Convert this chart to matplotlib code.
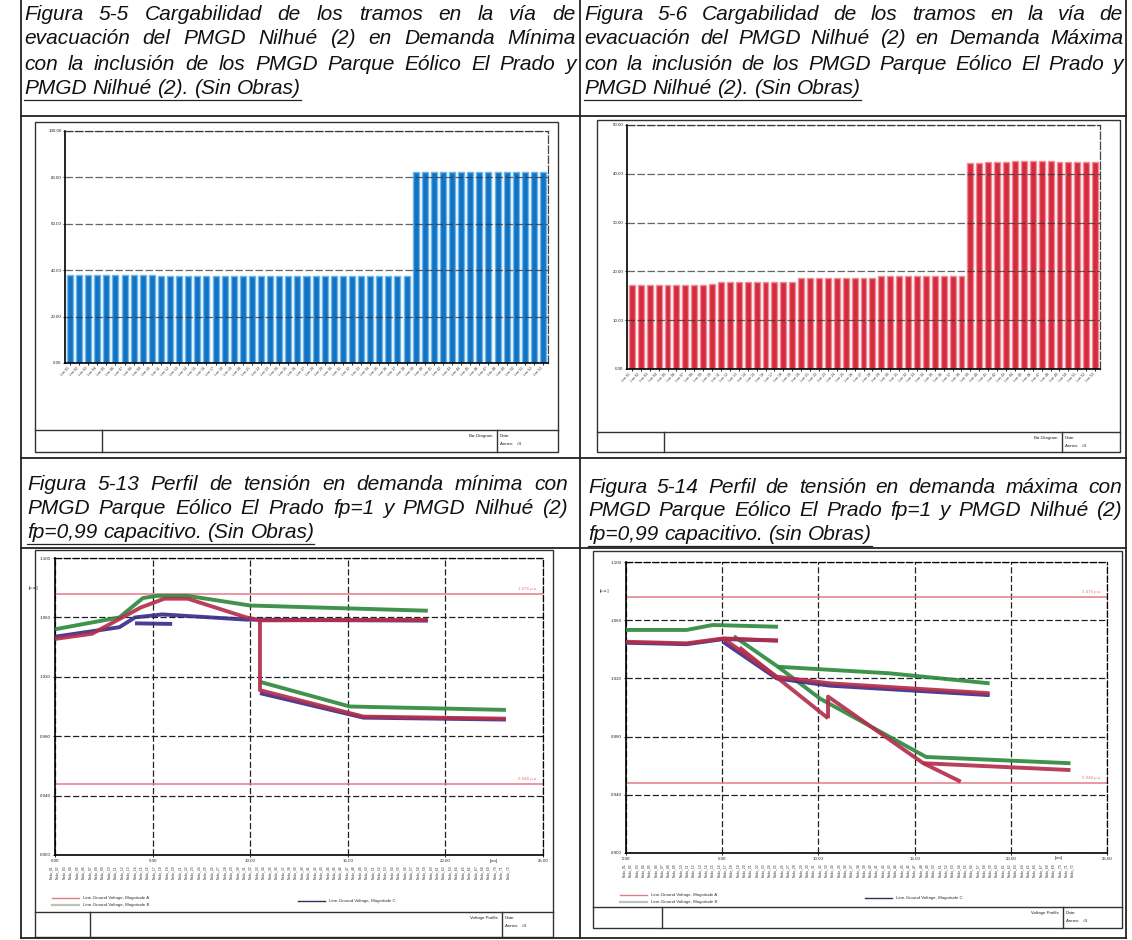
import matplotlib
matplotlib.use("Agg")
import matplotlib.pyplot as plt
from matplotlib.lines import Line2D
from matplotlib.patches import Rectangle
import matplotlib.transforms as mtransforms
import numpy as np

# ---------------------------------------------------------------- data
caption_tl = ["Figura 5-5 Cargabilidad de los tramos en la vía de",
              "evacuación del PMGD Nilhué (2) en Demanda Mínima",
              "con la inclusión de los PMGD Parque Eólico El Prado y",
              "PMGD Nilhué (2). (Sin Obras)"]
caption_tr = ["Figura 5-6 Cargabilidad de los tramos en la vía de",
              "evacuación del PMGD Nilhué (2) en Demanda Máxima",
              "con la inclusión de los PMGD Parque Eólico El Prado y",
              "PMGD Nilhué (2). (Sin Obras)"]
caption_bl = ["Figura 5-13 Perfil de tensión en demanda mínima con",
              "PMGD Parque Eólico El Prado fp=1 y PMGD Nilhué (2)",
              "fp=0,99 capacitivo. (Sin Obras)"]
caption_br = ["Figura 5-14 Perfil de tensión en demanda máxima con",
              "PMGD Parque Eólico El Prado fp=1 y PMGD Nilhué (2)",
              "fp=0,99 capacitivo. (sin Obras)"]

# loading of line sections [%] (53 sections)
tl_loading = [37.9, 37.9, 37.8, 37.8, 37.8, 37.8, 37.8, 37.8, 37.8, 37.8,
              37.7, 37.7, 37.7, 37.7, 37.7, 37.7, 37.6, 37.6, 37.6, 37.6,
              37.6, 37.6, 37.6, 37.6, 37.6, 37.6, 37.6, 37.6, 37.6, 37.6,
              37.7, 37.7, 37.7, 37.6, 37.6, 37.6, 37.6, 37.6,
              82.4, 82.4, 82.4, 82.4, 82.4, 82.4, 82.4, 82.4, 82.4, 82.4,
              82.4, 82.4, 82.4, 82.4, 82.4]
tr_loading = [17.3, 17.3, 17.3, 17.3, 17.3, 17.3, 17.3, 17.3, 17.3, 17.4,
              17.8, 17.8, 17.8, 17.8, 17.8, 17.8, 17.8, 17.8, 17.8,
              18.6, 18.6, 18.6, 18.6, 18.6, 18.6, 18.6, 18.7, 18.7,
              19.1, 19.1, 19.1, 19.1, 19.1, 19.1, 19.1, 19.1, 19.1, 19.1,
              42.3, 42.3, 42.4, 42.4, 42.5, 42.6, 42.6, 42.6, 42.6, 42.6,
              42.5, 42.5, 42.5, 42.5, 42.5]
section_labels = ["Lne %02d" % (i + 1) for i in range(53)]
tl_yticks = [0, 20, 40, 60, 80, 100]
tr_yticks = [0, 10, 20, 30, 40, 50]

# voltage profiles  (distance [km], voltage [p.u.])
# --- minimum demand
bl_b_main_km = [0.0, 3.3, 4.5, 5.2, 6.8, 10.0, 19.1]
bl_b_main_pu = [1.052, 1.060, 1.073, 1.0745, 1.0745, 1.068, 1.0645]
bl_b_low_km = [10.5, 15.1, 23.1]
bl_b_low_pu = [1.0166, 1.000, 0.9977]
bl_c_main_km = [0.0, 3.3, 4.1, 5.5, 9.8, 19.1]
bl_c_main_pu = [1.047, 1.0534, 1.060, 1.062, 1.0585, 1.0578]
bl_c_stub_km = [4.1, 6.0]
bl_c_stub_pu = [1.056, 1.0556]
bl_c_low_km = [10.5, 15.8, 23.1]
bl_c_low_pu = [1.009, 0.9925, 0.9912]
bl_a_main_km = [0.0, 1.9, 4.4, 5.6, 6.8, 9.8, 10.5, 19.1]
bl_a_main_pu = [1.0455, 1.049, 1.0667, 1.0726, 1.0726, 1.060, 1.058, 1.0583]
bl_a_low_km = [10.5, 10.5, 15.8, 23.1]
bl_a_low_pu = [1.058, 1.011, 0.9932, 0.9918]
# --- maximum demand
br_b_stub_km = [0.0, 3.15, 4.5, 7.9]
br_b_stub_pu = [1.0533, 1.0533, 1.0567, 1.0555]
br_b_main_km = [5.6, 7.9, 13.7, 18.9]
br_b_main_pu = [1.049, 1.028, 1.0235, 1.0166]
br_b_low_km = [7.9, 10.1, 15.6, 23.1]
br_b_low_pu = [1.028, 1.006, 0.966, 0.9617]
br_c_stub_km = [0.0, 3.15, 5.06, 7.9]
br_c_stub_pu = [1.0445, 1.0435, 1.047, 1.046]
br_c_main_km = [5.06, 7.83, 10.6, 18.9]
br_c_main_pu = [1.045, 1.020, 1.015, 1.0085]
br_a_stub_km = [0.0, 3.15, 5.06, 7.9]
br_a_stub_pu = [1.0452, 1.0441, 1.0475, 1.046]
br_a_main_km = [5.06, 7.83, 10.6, 18.9]
br_a_main_pu = [1.0475, 1.0212, 1.0166, 1.0098]
br_a_low1_km = [5.9, 10.5]
br_a_low1_pu = [1.0413, 0.9926]
br_a_low2_km = [10.5, 10.5, 15.45, 17.4]
br_a_low2_pu = [0.9926, 1.0075, 0.9617, 0.949]
br_a_low3_km = [15.45, 23.1]
br_a_low3_pu = [0.9617, 0.957]

v_upper = 1.076
v_lower = 0.948
km_ticks = [0, 5, 10, 15, 20, 25]
pu_ticks = [0.90, 0.94, 0.98, 1.02, 1.06, 1.10]
bus_labels = ["Nodo_%02d" % (i + 1) for i in range(72)]
legend_labels = ["Line-Ground Voltage, Magnitude A",
                 "Line-Ground Voltage, Magnitude B",
                 "Line-Ground Voltage, Magnitude C"]

# ---------------------------------------------------------------- styling
plt.rcParams['font.family'] = ['Liberation Sans', 'DejaVu Sans']
W, H = 1132, 940
fig = plt.figure(figsize=(W / 100, H / 100), dpi=100)
fig.patch.set_facecolor('white')

COL_A = '#b42e4c'
COL_B = '#2f8a3e'
COL_C = '#3a2e8c'
COL_LIM = '#e27a88'
CAP_FS = 15.0
TINY = 3.2


def fx(x):
    return x / W


def fy(y):
    return 1 - y / H


def rect(l, t, r, b):
    return [l / W, 1 - b / H, (r - l) / W, (b - t) / H]


def fline(xs, ys, lw=1.0, color='#222222', ls='-'):
    fig.add_artist(Line2D([fx(v) for v in xs], [fy(v) for v in ys],
                          transform=fig.transFigure, lw=lw, color=color, ls=ls))


renderer = fig.canvas.get_renderer()


def caption(lines, x0, x1, ys):
    sp = fig.text(0, 0, "a a", fontsize=CAP_FS, style='italic')
    nsp = fig.text(0, 0, "aa", fontsize=CAP_FS, style='italic')
    space = sp.get_window_extent(renderer).width - nsp.get_window_extent(renderer).width
    sp.remove()
    nsp.remove()
    for i, (line, y) in enumerate(zip(lines, ys)):
        words = line.split(' ')
        texts = [fig.text(0, fy(y), w, fontsize=CAP_FS, style='italic',
                          va='center', ha='left', color='#111111') for w in words]
        widths = [t.get_window_extent(renderer).width for t in texts]
        if i < len(lines) - 1:
            gap = max(space * 0.6, (x1 - x0 - sum(widths)) / (len(words) - 1))
        else:
            gap = space
        x = x0
        for t, w in zip(texts, widths):
            t.set_x(fx(x))
            x += w + gap
        if i == len(lines) - 1:
            fline([x0, x - gap], [y + 11, y + 11], lw=0.9, color='#222222')


# ---------------------------------------------------------------- table
fline([21, 1126], [116, 116], lw=1.3)
fline([21, 1126], [458, 458], lw=1.3)
fline([21, 1126], [548, 548], lw=1.3)
fline([21, 1126], [938, 938], lw=1.3)
for xv in (21, 580, 1126):
    fline([xv, xv], [0, 938], lw=1.3)

caption(caption_tl, 24, 576, [14, 39, 64, 89])
caption(caption_tr, 584, 1123, [14, 39, 64, 89])
caption(caption_bl, 27, 568, [485, 509, 533])
caption(caption_br, 588, 1122, [487, 511, 535])


# ---------------------------------------------------------------- frames
def frame(l, t, r, b, box_t, d1, d2, title):
    fig.add_artist(Rectangle((fx(l), fy(b)), fx(r - l), (b - t) / H, transform=fig.transFigure,
                             fill=False, lw=1.0, ec='#333333'))
    fline([l, r], [box_t, box_t], lw=1.0, color='#333333')
    fline([d1, d1], [box_t, b], lw=1.0, color='#333333')
    fline([d2, d2], [box_t, b], lw=1.0, color='#333333')
    fig.text(fx(d2 - 4), fy(box_t + 6), title, fontsize=TINY, ha='right', va='center', color='#222222')
    fig.text(fx(d2 + 3), fy(box_t + 6), "Date:", fontsize=TINY, ha='left', va='center', color='#222222')
    fig.text(fx(d2 + 3), fy(box_t + 14), "Annex:   /4", fontsize=TINY, ha='left', va='center', color='#222222')


frame(35, 122, 558, 452, 430, 102, 497, "Bar-Diagram")
frame(597, 120, 1120, 452, 432, 664, 1062, "Bar-Diagram")
frame(35, 550, 553, 937, 912, 90, 502, "Voltage Profile")
frame(593, 551, 1122, 928, 907, 662, 1063, "Voltage Profile")


# ---------------------------------------------------------------- bar charts
def bar_chart(box, values, yticks, core, edge):
    ax = fig.add_axes(box)
    x = np.arange(len(values))
    ax.bar(x, values, width=0.66, color=core, edgecolor=edge, linewidth=1.0, zorder=2)
    ax.set_xlim(-0.55, len(values) - 0.45)
    ax.set_ylim(yticks[0], yticks[-1])
    ax.set_yticks(yticks)
    ax.set_yticklabels(["%.2f" % v for v in yticks], fontsize=TINY, color='#222222')
    ax.set_xticks(x)
    ax.set_xticklabels(section_labels, rotation=45, ha='right', fontsize=2.6, color='#333333')
    ax.tick_params(length=1.5, width=0.6, pad=1)
    for yv in yticks[1:]:
        ax.axhline(yv, color='#333333', lw=0.9, ls=(0, (6, 2)), zorder=3, alpha=0.75)
    ax.spines['left'].set_linewidth(1.2)
    ax.spines['bottom'].set_linewidth(1.2)
    for s in ('top', 'right'):
        ax.spines[s].set_linestyle((0, (6, 2)))
        ax.spines[s].set_linewidth(0.9)
        ax.spines[s].set_color('#444444')
    return ax


bar_chart(rect(65, 131, 548, 363), tl_loading, tl_yticks, '#1273c4', '#6db6ea')
bar_chart(rect(627, 125, 1100, 369), tr_loading, tr_yticks, '#d42c3e', '#f08c98')


# ---------------------------------------------------------------- voltage profiles
def profile(box, series, lbl_x0, lbl_x1, leg):
    ax = fig.add_axes(box)
    for km, pu, col in series:
        ax.plot(km, pu, color=col, lw=2.8, solid_capstyle='butt', zorder=3, alpha=0.92)
    ax.axhline(v_upper, color=COL_LIM, lw=1.1, zorder=2)
    ax.axhline(v_lower, color=COL_LIM, lw=1.1, zorder=2)
    ax.text(24.7, v_upper + 0.002, "%.3f p.u." % v_upper, fontsize=TINY, color=COL_LIM,
            ha='right', va='bottom')
    ax.text(24.7, v_lower + 0.002, "%.3f p.u." % v_lower, fontsize=TINY, color=COL_LIM,
            ha='right', va='bottom')
    ax.set_xlim(km_ticks[0], km_ticks[-1])
    ax.set_ylim(pu_ticks[0], pu_ticks[-1])
    ax.set_xticks(km_ticks)
    ax.set_xticklabels(["%.2f" % v for v in km_ticks], fontsize=TINY, color='#222222')
    ax.set_yticks(pu_ticks)
    ax.set_yticklabels(["%.3f" % v for v in pu_ticks], fontsize=TINY, color='#222222')
    ax.tick_params(length=1.5, width=0.6, pad=1.5)
    ax.text(22.5, -0.012, "[km]", transform=ax.get_xaxis_transform(), fontsize=TINY,
            ha='center', va='top', color='#222222')
    ax.text(-0.035, 1.08, "[p.u.]", transform=ax.get_yaxis_transform(), fontsize=TINY,
            ha='right', va='center', color='#222222')
    ax.grid(True, color='#222222', lw=0.9, ls=(0, (5, 2)), zorder=1)
    ax.spines['left'].set_linewidth(1.2)
    ax.spines['bottom'].set_linewidth(1.2)
    for s in ('top', 'right'):
        ax.spines[s].set_linestyle((0, (5, 2)))
        ax.spines[s].set_linewidth(0.9)
    trans = mtransforms.blended_transform_factory(ax.transData, ax.transAxes)
    pos = np.linspace(lbl_x0, lbl_x1, len(bus_labels))
    for p, lab in zip(pos, bus_labels):
        ax.text(p, -0.035, lab, transform=trans, rotation=90, fontsize=2.4,
                ha='center', va='top', color='#333333')
    (lx0, ly0), (lx1, ly1), (rx0, ry0) = leg
    fline([lx0, lx0 + 27], [ly0, ly0], lw=1.0, color=COL_LIM)
    fig.text(fx(lx0 + 31), fy(ly0), legend_labels[0], fontsize=TINY, va='center', color='#333333')
    fline([lx1, lx1 + 27], [ly1, ly1], lw=1.6, color='#b8c6b8')
    fig.text(fx(lx1 + 31), fy(ly1), legend_labels[1], fontsize=TINY, va='center', color='#333333')
    fline([rx0, rx0 + 27], [ry0, ry0], lw=1.0, color='#30305a')
    fig.text(fx(rx0 + 31), fy(ry0), legend_labels[2], fontsize=TINY, va='center', color='#333333')
    return ax


bl_series = [(bl_b_main_km, bl_b_main_pu, COL_B), (bl_b_low_km, bl_b_low_pu, COL_B),
             (bl_c_main_km, bl_c_main_pu, COL_C), (bl_c_stub_km, bl_c_stub_pu, COL_C),
             (bl_c_low_km, bl_c_low_pu, COL_C),
             (bl_a_main_km, bl_a_main_pu, COL_A), (bl_a_low_km, bl_a_low_pu, COL_A)]
br_series = [(br_b_stub_km, br_b_stub_pu, COL_B), (br_b_main_km, br_b_main_pu, COL_B),
             (br_b_low_km, br_b_low_pu, COL_B),
             (br_c_stub_km, br_c_stub_pu, COL_C), (br_c_main_km, br_c_main_pu, COL_C),
             (br_a_stub_km, br_a_stub_pu, COL_A), (br_a_main_km, br_a_main_pu, COL_A),
             (br_a_low1_km, br_a_low1_pu, COL_A), (br_a_low2_km, br_a_low2_pu, COL_A),
             (br_a_low3_km, br_a_low3_pu, COL_A)]

profile(rect(55, 558, 543, 855), bl_series, -0.2, 23.2,
        ((52, 898), (52, 905), (298, 901)))
profile(rect(626, 562, 1107, 853), br_series, -0.1, 23.2,
        ((620, 895), (620, 902), (865, 898)))

fig.savefig("out.png", dpi=100, facecolor='white')
